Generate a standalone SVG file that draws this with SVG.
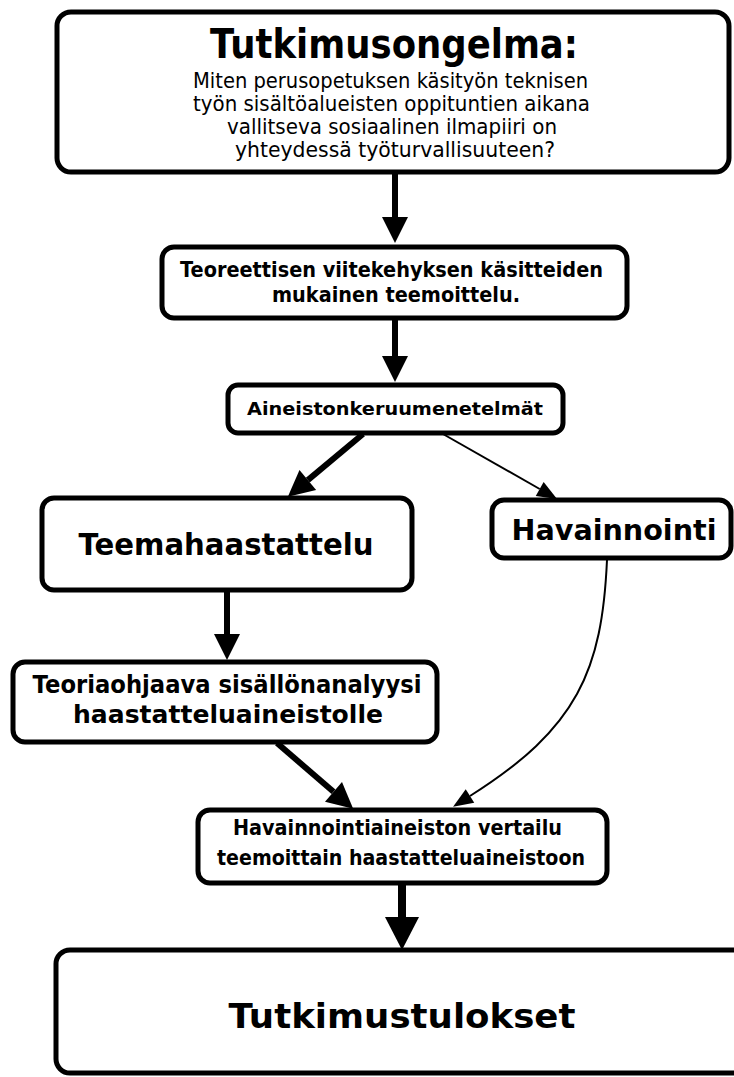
<svg xmlns="http://www.w3.org/2000/svg" width="734" height="1077" viewBox="0 0 734 1077">
<style>
.box{fill:#fff;stroke:#000;stroke-width:5}
.t{font-family:"DejaVu Sans",Verdana,sans-serif;fill:#000;text-anchor:middle}
.b{font-weight:bold}
.thick{stroke:#000;stroke-width:6;fill:none}
.thin{stroke:#000;stroke-width:2;fill:none}
.huge{stroke:#000;stroke-width:8;fill:none}
</style>
<defs>
<marker id="hB" markerUnits="userSpaceOnUse" markerWidth="30" markerHeight="30" refX="0" refY="13" orient="auto" overflow="visible"><path d="M0,0 L26,13 L0,26 Z" fill="#000"/></marker>
<marker id="hS" markerUnits="userSpaceOnUse" markerWidth="24" markerHeight="20" refX="0" refY="8" orient="auto" overflow="visible"><path d="M0,0 L20,8 L0,16 Z" fill="#000"/></marker>
<marker id="hH" markerUnits="userSpaceOnUse" markerWidth="36" markerHeight="36" refX="0" refY="17" orient="auto" overflow="visible"><path d="M0,0 L33,17 L0,34 Z" fill="#000"/></marker>
</defs>
<rect width="734" height="1077" fill="#fff"/>
<g id="connectors">
<line class="thick" x1="395" y1="174" x2="395" y2="217" marker-end="url(#hB)"/>
<line class="thick" x1="395" y1="320" x2="395" y2="356" marker-end="url(#hB)"/>
<line class="thick" x1="363" y1="434" x2="307.8" y2="480.1" marker-end="url(#hB)"/>
<line class="thin" x1="443" y1="434" x2="539.7" y2="489" marker-end="url(#hS)"/>
<line class="thick" x1="227" y1="592" x2="227" y2="634" marker-end="url(#hB)"/>
<line class="thick" x1="277" y1="743" x2="333.5" y2="791.8" marker-end="url(#hB)"/>
<path class="thin" d="M607,560 C602,670 578,728 470,796" marker-end="url(#hS)"/>
<line class="huge" x1="402" y1="885" x2="402" y2="917" marker-end="url(#hH)"/>
</g>
<g id="n-problem">
<rect class="box" x="57" y="12" width="672" height="160" rx="14"/>
<text class="t b" x="394" y="58" font-size="41" textLength="368" lengthAdjust="spacingAndGlyphs">Tutkimusongelma:</text>
<text class="t" x="390.5" y="88" font-size="22" textLength="395" lengthAdjust="spacingAndGlyphs">Miten perusopetuksen käsityön teknisen</text>
<text class="t" x="391.5" y="111" font-size="22" textLength="397" lengthAdjust="spacingAndGlyphs">työn sisältöalueisten oppituntien aikana</text>
<text class="t" x="392" y="134" font-size="22" textLength="330" lengthAdjust="spacingAndGlyphs">vallitseva sosiaalinen ilmapiiri on</text>
<text class="t" x="395" y="157" font-size="22" textLength="320" lengthAdjust="spacingAndGlyphs">yhteydessä työturvallisuuteen?</text>
</g>
<g id="n-theory">
<rect class="box" x="162" y="247" width="465" height="71" rx="12"/>
<text class="t b" x="391.5" y="277" font-size="21" textLength="423" lengthAdjust="spacingAndGlyphs">Teoreettisen viitekehyksen käsitteiden</text>
<text class="t b" x="396" y="302" font-size="21" textLength="248" lengthAdjust="spacingAndGlyphs">mukainen teemoittelu.</text>
</g>
<g id="n-methods">
<rect class="box" x="228" y="385" width="335" height="48" rx="10"/>
<text class="t b" x="395" y="415" font-size="18" textLength="296" lengthAdjust="spacingAndGlyphs">Aineistonkeruumenetelmät</text>
</g>
<g id="n-interview">
<rect class="box" x="42" y="498" width="370" height="92" rx="12"/>
<text class="t b" x="226" y="555" font-size="30" textLength="295" lengthAdjust="spacingAndGlyphs">Teemahaastattelu</text>
</g>
<g id="n-observation">
<rect class="box" x="492" y="500" width="239" height="58" rx="12"/>
<text class="t b" x="614" y="540" font-size="29" textLength="205" lengthAdjust="spacingAndGlyphs">Havainnointi</text>
</g>
<g id="n-analysis">
<rect class="box" x="13" y="662" width="424" height="80" rx="12"/>
<text class="t b" x="227" y="693" font-size="25" textLength="389" lengthAdjust="spacingAndGlyphs">Teoriaohjaava sisällönanalyysi</text>
<text class="t b" x="228" y="723" font-size="25" textLength="310" lengthAdjust="spacingAndGlyphs">haastatteluaineistolle</text>
</g>
<g id="n-compare">
<rect class="box" x="198" y="810" width="409" height="73" rx="12"/>
<text class="t b" x="397.5" y="835" font-size="21" textLength="329" lengthAdjust="spacingAndGlyphs">Havainnointiaineiston vertailu</text>
<text class="t b" x="401" y="865" font-size="21" textLength="368" lengthAdjust="spacingAndGlyphs">teemoittain haastatteluaineistoon</text>
</g>
<g id="n-results">
<rect class="box" x="56" y="950" width="720" height="123" rx="14"/>
<text class="t b" x="402" y="1028" font-size="34" textLength="347" lengthAdjust="spacingAndGlyphs">Tutkimustulokset</text>
</g>
</svg>
